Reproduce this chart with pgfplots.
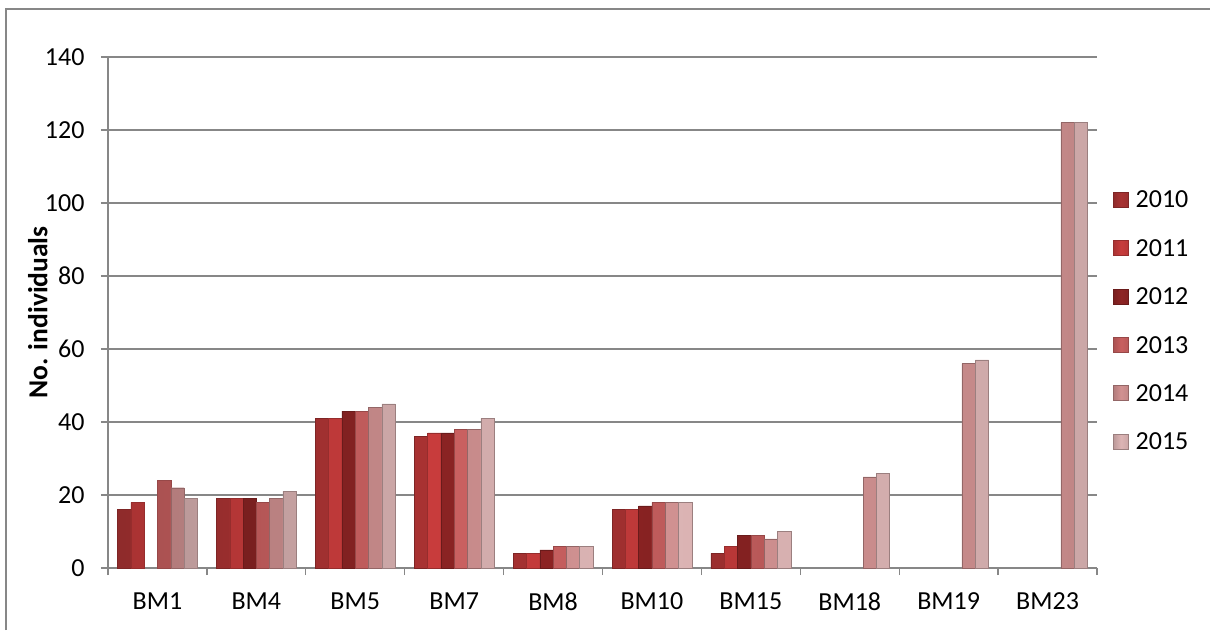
\documentclass[border=0pt]{standalone}
\usepackage{fontspec}
\setmainfont{Carlito}
\usepackage{pgfplots}
\pgfplotsset{compat=1.18}
\definecolor{c10}{HTML}{A83232}
\definecolor{c11}{HTML}{C83C3C}
\definecolor{c12}{HTML}{8E2424}
\definecolor{c13}{HTML}{C96060}
\definecolor{c14}{HTML}{D29292}
\definecolor{c15}{HTML}{DDB5B5}
\definecolor{gridc}{HTML}{878787}
\begin{document}
\begin{tikzpicture}[x=1pt,y=1pt]
\path[use as bounding box] (0,0) rectangle (1210,630);
\draw[gridc, line width=1.3pt] (6,0) -- (6,621) -- (1215,621);
\begin{axis}[
  at={(108pt,62pt)}, anchor=south west,
  scale only axis, width=989pt, height=511pt,
  xmin=-0.5, xmax=9.5, ymin=0, ymax=140,
  ytick={0,20,...,140},
  xtick={0,...,9},
  xticklabels={BM1,BM4,BM5,BM7,BM8,BM10,BM15,BM18,BM19,BM23},
  minor xtick={-0.5,0.5,...,9.5},
  major x tick style={draw=none},
  minor tick length=7pt, major tick length=7pt,
  tick align=outside,
  axis x line*=bottom, axis y line*=left,
  axis line style={gridc, line width=1.3pt, -},
  tick style={gridc, line width=1.3pt},
  ymajorgrids, major grid style={gridc, line width=1.3pt},
  ytick pos=left,
  /pgf/number format/assume math mode=true,
  tick label style={font=\fontsize{26}{31}\selectfont, black},
  yticklabel style={xshift=-13pt},
  xticklabel style={yshift=-14pt},
  ylabel={No. individuals},
  ylabel style={font=\fontsize{27.5}{33}\selectfont\bfseries, at={(axis description cs:-0.071,0.5)}, anchor=center, rotate=0},
  ybar=0pt, bar width=13.3pt,
  legend style={draw=none, fill=none, at={(1.013,0.483)}, anchor=west,
    font=\fontsize{26}{31}\selectfont, row sep=26pt,
    nodes={inner sep=2pt}},
  legend cell align=left,
  legend image code/.code={\draw[#1, line width=0.8pt] (-4pt,-7pt) rectangle (11pt,8pt); \path (16pt,0pt);},
]
\addplot[draw=c10!75!black, left color=c10!85!black, right color=c10!92!black, middle color=c10] coordinates {(0,16)(1,19)(2,41)(3,36)(4,4)(5,16)(6,4)};
\addplot[draw=c11!75!black, left color=c11!85!black, right color=c11!92!black, middle color=c11] coordinates {(0,18)(1,19)(2,41)(3,37)(4,4)(5,16)(6,6)};
\addplot[draw=c12!75!black, left color=c12!85!black, right color=c12!92!black, middle color=c12] coordinates {(1,19)(2,43)(3,37)(4,5)(5,17)(6,9)};
\addplot[draw=c13!75!black, left color=c13!85!black, right color=c13!92!black, middle color=c13] coordinates {(0,24)(1,18)(2,43)(3,38)(4,6)(5,18)(6,9)};
\addplot[draw=c14!70!black, left color=c14!85!black, right color=c14!92!black, middle color=c14] coordinates {(0,22)(1,19)(2,44)(3,38)(4,6)(5,18)(6,8)(7,25)(8,56)(9,122)};
\addplot[draw=c15!70!black, left color=c15!85!black, right color=c15!92!black, middle color=c15] coordinates {(0,19)(1,21)(2,45)(3,41)(4,6)(5,18)(6,10)(7,26)(8,57)(9,122)};
\legend{2010,2011,2012,2013,2014,2015}
\end{axis}
\end{tikzpicture}
\end{document}
